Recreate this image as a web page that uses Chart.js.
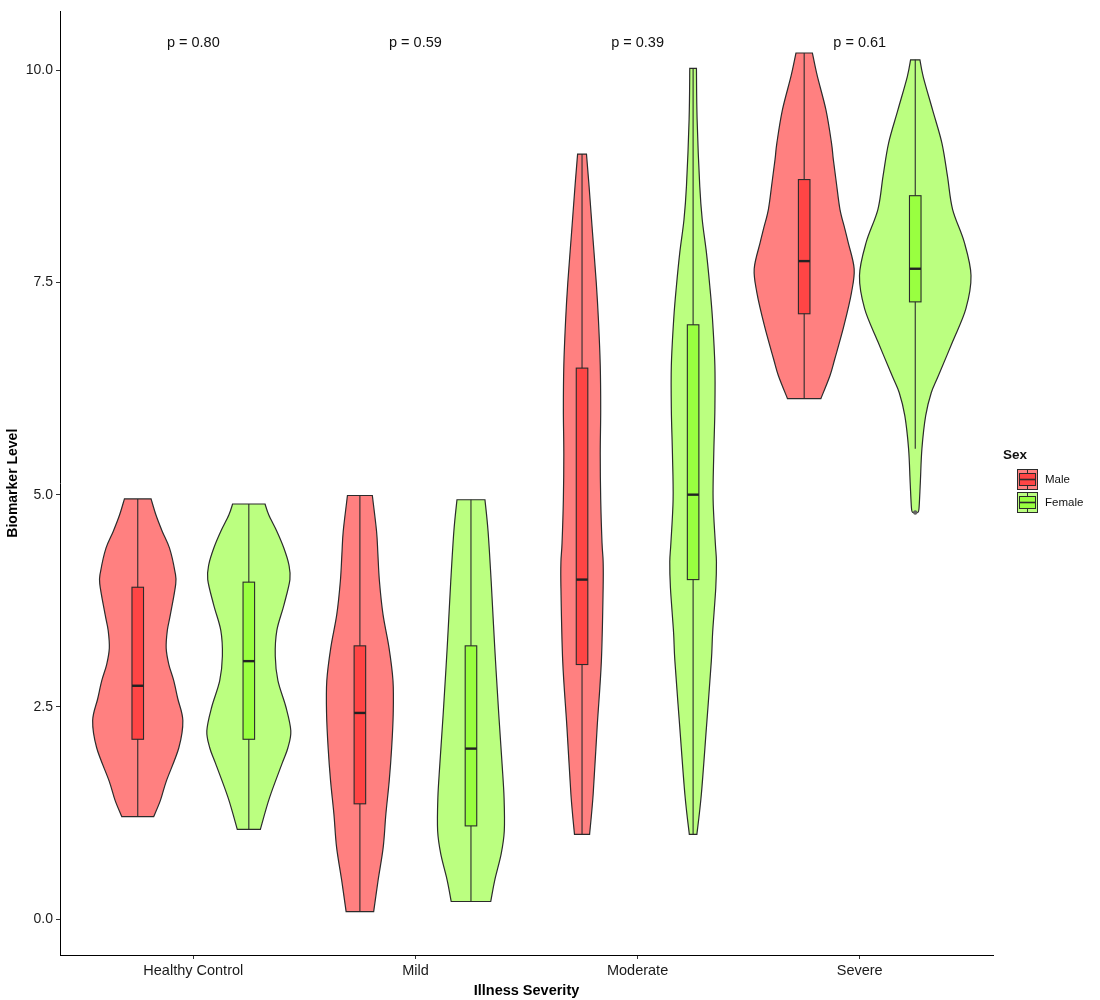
<!DOCTYPE html>
<html>
<head>
<meta charset="utf-8">
<script src="https://cdn.jsdelivr.net/npm/chart.js@4.4.1/dist/chart.umd.min.js"></script>
<style>
body { margin: 0; background: #fff; }
canvas { display: block; }
</style>
</head>
<body>
<canvas id="chart" width="1100" height="1000"></canvas>
<script>
const categories = ['Healthy Control', 'Mild', 'Moderate', 'Severe'];
const sexes = ['Male', 'Female'];
const pLabels = ['p = 0.80', 'p = 0.59', 'p = 0.39', 'p = 0.61'];
const pLabelLevel = 10.32;
const yTicks = [0, 2.5, 5, 7.5, 10];

// violin outlines: biomarker level and half width (in category units)
const hcMaleLevels = [1.21, 1.40, 1.63, 2.02, 2.34, 2.60, 2.81, 3.00, 3.19, 3.40, 3.59, 3.95, 4.10, 4.37, 4.57, 4.76, 4.95];
const hcMaleWidths = [0.072, 0.102, 0.129, 0.185, 0.203, 0.180, 0.162, 0.140, 0.128, 0.133, 0.147, 0.171, 0.167, 0.143, 0.110, 0.082, 0.060];
const hcFemaleLevels = [1.06, 1.43, 1.83, 2.02, 2.22, 2.50, 2.81, 3.10, 3.40, 3.70, 4.00, 4.18, 4.37, 4.57, 4.76, 4.89];
const hcFemaleWidths = [0.052, 0.093, 0.149, 0.176, 0.189, 0.167, 0.131, 0.119, 0.126, 0.158, 0.185, 0.180, 0.158, 0.126, 0.090, 0.073];
const mildMaleLevels = [0.09, 0.46, 0.85, 1.24, 1.63, 2.02, 2.42, 2.81, 3.20, 3.59, 3.98, 4.30, 4.57, 4.99];
const mildMaleWidths = [0.062, 0.082, 0.105, 0.117, 0.132, 0.143, 0.150, 0.149, 0.131, 0.104, 0.088, 0.081, 0.075, 0.056];
const mildFemaleLevels = [0.21, 0.46, 0.77, 1.04, 1.43, 1.83, 2.42, 3.20, 3.98, 4.57, 4.94];
const mildFemaleWidths = [0.089, 0.107, 0.136, 0.150, 0.149, 0.140, 0.125, 0.107, 0.091, 0.077, 0.063];
const modMaleLevels = [1.00, 1.47, 2.26, 3.04, 3.90, 4.21, 4.43, 4.95, 5.48, 6.00, 6.52, 7.05, 7.50, 8.09, 8.62, 9.01];
const modMaleWidths = [0.034, 0.050, 0.068, 0.087, 0.095, 0.095, 0.090, 0.084, 0.082, 0.084, 0.082, 0.074, 0.064, 0.047, 0.032, 0.020];
const modFemaleLevels = [1.00, 1.47, 2.26, 3.04, 3.38, 3.90, 4.21, 4.43, 4.95, 5.48, 6.00, 6.52, 7.08, 7.46, 7.85, 8.24, 8.63, 9.42, 10.02];
const modFemaleWidths = [0.017, 0.037, 0.060, 0.082, 0.088, 0.102, 0.105, 0.100, 0.090, 0.093, 0.098, 0.098, 0.087, 0.075, 0.060, 0.041, 0.030, 0.018, 0.015];
const sevMaleLevels = [6.13, 6.40, 6.60, 6.99, 7.38, 7.66, 7.97, 8.13, 8.36, 8.67, 8.95, 9.14, 9.53, 9.93, 10.20];
const sevMaleWidths = [0.075, 0.116, 0.138, 0.179, 0.213, 0.225, 0.198, 0.183, 0.161, 0.145, 0.131, 0.123, 0.098, 0.059, 0.037];
const sevFemaleLevels = [4.79, 4.84, 5.15, 5.54, 5.93, 6.20, 6.40, 6.80, 7.19, 7.58, 7.97, 8.36, 8.75, 9.14, 9.53, 9.92, 10.12];
const sevFemaleWidths = [0.011, 0.017, 0.023, 0.030, 0.047, 0.072, 0.104, 0.168, 0.228, 0.251, 0.221, 0.168, 0.145, 0.120, 0.078, 0.036, 0.021];

// box stats per category: [lower whisker, q1, median, q3, upper whisker]
const maleBoxes = [
    [1.21, 2.12, 2.75, 3.91, 4.95],
    [0.09, 1.36, 2.43, 3.22, 4.99],
    [1.00, 3.00, 4.00, 6.49, 9.01],
    [6.13, 7.13, 7.75, 8.71, 10.20]
];
const femaleBoxes = [
    [1.06, 2.12, 3.04, 3.97, 4.89],
    [0.21, 1.10, 2.01, 3.22, 4.94],
    [1.00, 4.00, 5.00, 7.00, 10.02],
    [5.54, 7.27, 7.66, 8.52, 10.12]
];
const severeFemaleOutliers = [4.79];

const violinFill = ['#FF8080', '#BBFF80'];
const boxFill = ['#FF4545', '#99FF40'];
const lineColor = '#2b2b2b';
const dodge = [-0.25, 0.25];
const boxHalf = 0.026;
const fontFamily = '"Liberation Sans", Arial, Helvetica, sans-serif';

const violins = [
    {cat: 0, sex: 0, levels: hcMaleLevels, widths: hcMaleWidths},
    {cat: 0, sex: 1, levels: hcFemaleLevels, widths: hcFemaleWidths},
    {cat: 1, sex: 0, levels: mildMaleLevels, widths: mildMaleWidths},
    {cat: 1, sex: 1, levels: mildFemaleLevels, widths: mildFemaleWidths},
    {cat: 2, sex: 0, levels: modMaleLevels, widths: modMaleWidths},
    {cat: 2, sex: 1, levels: modFemaleLevels, widths: modFemaleWidths},
    {cat: 3, sex: 0, levels: sevMaleLevels, widths: sevMaleWidths},
    {cat: 3, sex: 1, levels: sevFemaleLevels, widths: sevFemaleWidths}
];

function smoothSide(ctx, pts, first) {
    if (first) ctx.moveTo(pts[0].x, pts[0].y);
    else ctx.lineTo(pts[0].x, pts[0].y);
    for (let i = 0; i < pts.length - 1; i++) {
        const p0 = pts[Math.max(i - 1, 0)], p1 = pts[i], p2 = pts[i + 1];
        const p3 = pts[Math.min(i + 2, pts.length - 1)];
        ctx.bezierCurveTo(
            p1.x + (p2.x - p0.x) / 6, p1.y + (p2.y - p0.y) / 6,
            p2.x - (p3.x - p1.x) / 6, p2.y - (p3.y - p1.y) / 6,
            p2.x, p2.y);
    }
}

const violinPlugin = {
    id: 'violins',
    beforeDatasetsDraw(chart) {
        const ctx = chart.ctx;
        const xs = chart.scales.x, ys = chart.scales.y;
        ctx.save();
        violins.forEach(v => {
            const cx = v.cat + 1 + dodge[v.sex];
            const left = v.levels.map((l, k) => ({x: xs.getPixelForValue(cx - v.widths[k]), y: ys.getPixelForValue(l)}));
            const right = v.levels.map((l, k) => ({x: xs.getPixelForValue(cx + v.widths[k]), y: ys.getPixelForValue(l)})).reverse();
            ctx.beginPath();
            smoothSide(ctx, left, true);
            smoothSide(ctx, right, false);
            ctx.closePath();
            ctx.fillStyle = violinFill[v.sex];
            ctx.fill();
            ctx.lineWidth = 1.2;
            ctx.strokeStyle = lineColor;
            ctx.stroke();
        });
        [maleBoxes, femaleBoxes].forEach((boxes, sex) => {
            boxes.forEach((b, cat) => {
                const cx = cat + 1 + dodge[sex];
                const px = xs.getPixelForValue(cx);
                const x0 = xs.getPixelForValue(cx - boxHalf), x1 = xs.getPixelForValue(cx + boxHalf);
                ctx.lineWidth = 1.1;
                ctx.strokeStyle = lineColor;
                ctx.beginPath();
                ctx.moveTo(px, ys.getPixelForValue(b[0]));
                ctx.lineTo(px, ys.getPixelForValue(b[4]));
                ctx.stroke();
                const yq3 = ys.getPixelForValue(b[3]), yq1 = ys.getPixelForValue(b[1]);
                ctx.fillStyle = boxFill[sex];
                ctx.fillRect(x0, yq3, x1 - x0, yq1 - yq3);
                ctx.strokeRect(x0, yq3, x1 - x0, yq1 - yq3);
                ctx.lineWidth = 2.4;
                ctx.strokeStyle = '#222';
                ctx.beginPath();
                const ym = ys.getPixelForValue(b[2]);
                ctx.moveTo(x0, ym);
                ctx.lineTo(x1, ym);
                ctx.stroke();
            });
        });
        ctx.restore();
    },
    afterDraw(chart) {
        const ctx = chart.ctx;
        const xs = chart.scales.x, ys = chart.scales.y;
        ctx.save();
        ctx.fillStyle = '#111';
        ctx.font = '14.5px ' + fontFamily;
        ctx.textAlign = 'center';
        ctx.textBaseline = 'middle';
        pLabels.forEach((t, i) => {
            ctx.fillText(t, xs.getPixelForValue(i + 1), ys.getPixelForValue(pLabelLevel));
        });

        // legend
        const lx = 1003, ly = 455;
        ctx.textAlign = 'left';
        ctx.font = 'bold 13.5px ' + fontFamily;
        ctx.fillText('Sex', lx, ly);
        ctx.font = '11.5px ' + fontFamily;
        sexes.forEach((s, k) => {
            const kx = 1017, ky = 469 + k * 23, kw = 21, kh = 21;
            ctx.fillStyle = violinFill[k];
            ctx.fillRect(kx, ky, kw, kh);
            ctx.strokeStyle = lineColor;
            ctx.lineWidth = 1;
            ctx.strokeRect(kx + 0.5, ky + 0.5, kw - 1, kh - 1);
            ctx.beginPath();
            ctx.moveTo(kx + kw / 2, ky);
            ctx.lineTo(kx + kw / 2, ky + kh);
            ctx.stroke();
            ctx.fillStyle = boxFill[k];
            ctx.fillRect(kx + 2.5, ky + 4.5, kw - 5, kh - 9);
            ctx.strokeRect(kx + 2.5, ky + 4.5, kw - 5, kh - 9);
            ctx.lineWidth = 1.6;
            ctx.beginPath();
            ctx.moveTo(kx + 2.5, ky + kh / 2);
            ctx.lineTo(kx + kw - 2.5, ky + kh / 2);
            ctx.stroke();
            ctx.fillStyle = '#111';
            ctx.fillText(s, 1045, ky + kh / 2);
        });
        ctx.restore();
    }
};

const ctx = document.getElementById('chart');
new Chart(ctx, {
    type: 'scatter',
    data: {
        datasets: [{
            label: 'outliers',
            data: severeFemaleOutliers.map(v => ({x: 4 + dodge[1], y: v})),
            pointRadius: 2,
            pointBackgroundColor: '#666',
            pointBorderColor: '#555',
            pointBorderWidth: 0.5
        }]
    },
    options: {
        responsive: false,
        animation: false,
        layout: {padding: {top: 8, right: 107, left: 0, bottom: 0}},
        plugins: {
            legend: {display: false},
            tooltip: {enabled: false}
        },
        scales: {
            x: {
                type: 'linear',
                min: 0.4,
                max: 4.6,
                afterBuildTicks: s => { s.ticks = categories.map((c, i) => ({value: i + 1})); },
                afterFit: s => { s.height = 45; },
                ticks: {
                    callback: v => categories[v - 1],
                    color: '#1a1a1a',
                    font: {family: fontFamily, size: 14.5},
                    padding: 3,
                    maxRotation: 0
                },
                grid: {display: true, drawOnChartArea: false, drawTicks: true, tickLength: 4, color: '#333'},
                border: {display: true, color: '#000', width: 1},
                title: {
                    display: true,
                    text: 'Illness Severity',
                    color: '#000',
                    font: {family: fontFamily, size: 14.5, weight: 'bold'},
                    padding: {top: 0, bottom: 0}
                }
            },
            y: {
                type: 'linear',
                min: -0.42,
                max: 10.69,
                afterBuildTicks: s => { s.ticks = yTicks.map(v => ({value: v})); },
                afterFit: s => { s.width = 60; },
                ticks: {
                    callback: v => v.toFixed(1),
                    color: '#1a1a1a',
                    font: {family: fontFamily, size: 14},
                    padding: 3
                },
                grid: {display: true, drawOnChartArea: false, drawTicks: true, tickLength: 4, color: '#333'},
                border: {display: true, color: '#000', width: 1},
                title: {
                    display: true,
                    text: 'Biomarker Level',
                    color: '#000',
                    font: {family: fontFamily, size: 14, weight: 'bold'},
                    padding: {top: 5, bottom: 0}
                }
            }
        }
    },
    plugins: [violinPlugin]
});
</script>
</body>
</html>
